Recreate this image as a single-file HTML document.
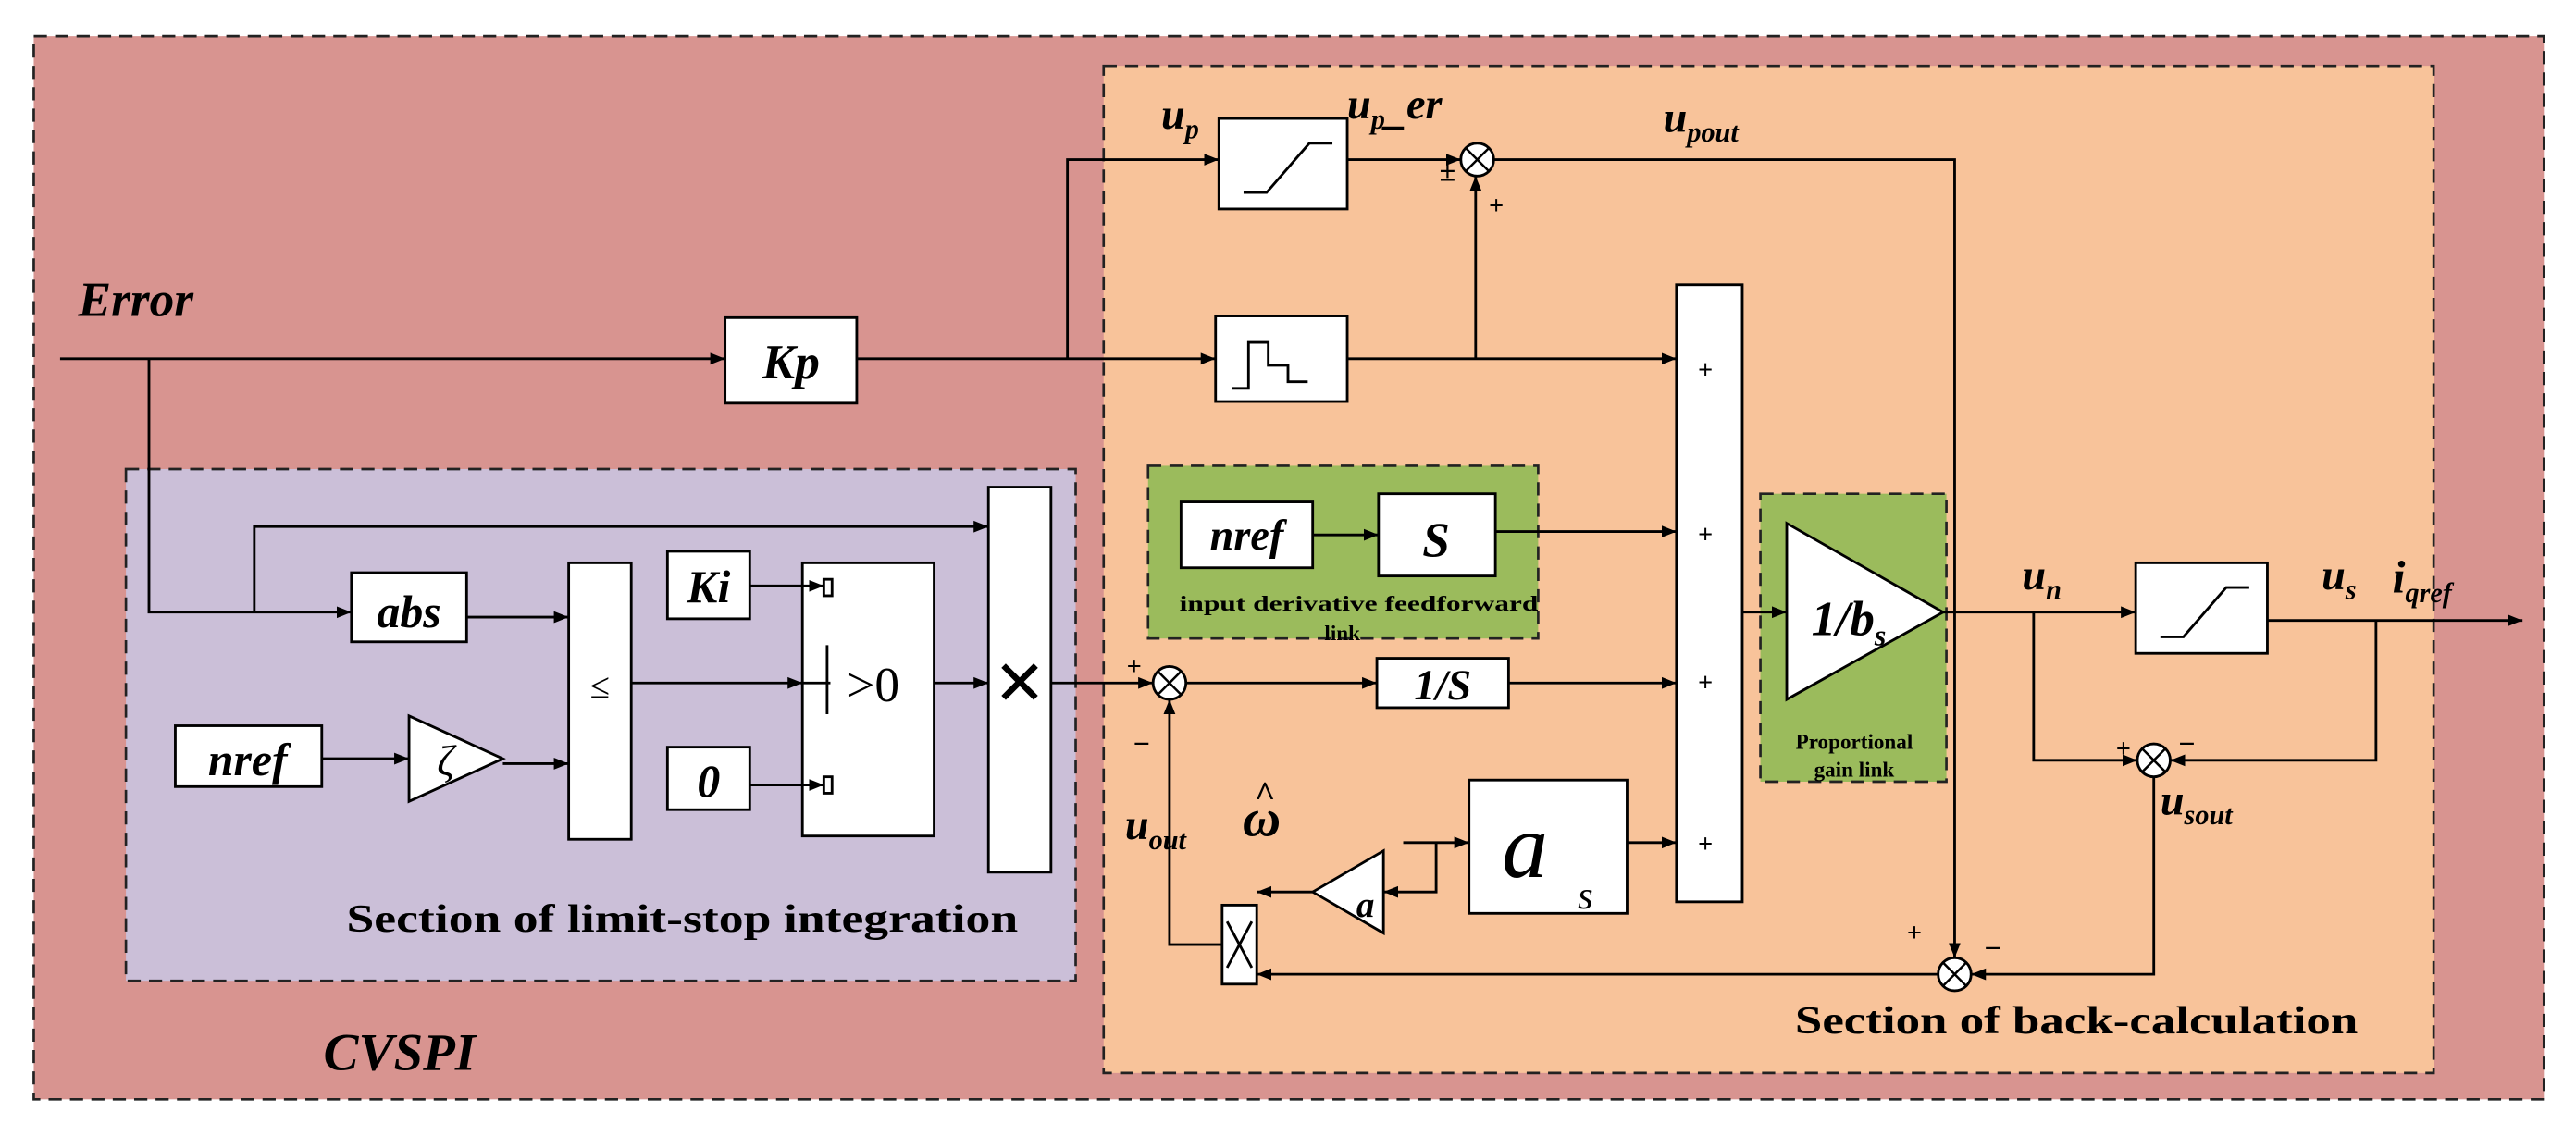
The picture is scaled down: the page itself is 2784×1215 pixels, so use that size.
<!DOCTYPE html>
<html><head><meta charset="utf-8"><style>
html,body{margin:0;padding:0;background:#fff}
svg{display:block}
text{font-family:"Liberation Serif",serif;fill:#000}
.b{font-weight:bold}
.bi{font-weight:bold;font-style:italic}
</style></head><body>
<svg width="2784" height="1215" viewBox="0 0 1564 683" xmlns="http://www.w3.org/2000/svg">
<defs><marker id="a" viewBox="0 0 10 10" refX="10" refY="5" markerWidth="9" markerHeight="9" markerUnits="userSpaceOnUse" orient="auto"><path d="M0,1 L10,5 L0,9 z" fill="#000"/></marker></defs>
<rect x="0" y="0" width="1564" height="683" fill="#fff"/>
<rect x="20" y="22" width="1525" height="646" fill="#d89490" stroke="#222" stroke-width="1.5" stroke-dasharray="8,5"/>
<rect x="670" y="40" width="808" height="612" fill="#f8c39a" stroke="#222" stroke-width="1.5" stroke-dasharray="8,5"/>
<rect x="76" y="285" width="577" height="311" fill="#cbbfd8" stroke="#222" stroke-width="1.5" stroke-dasharray="8,5"/>
<rect x="697" y="283" width="237" height="105" fill="#9bbb5c" stroke="#222" stroke-width="1.5" stroke-dasharray="8,5"/>
<rect x="1069" y="300" width="113" height="175" fill="#9bbb5c" stroke="#222" stroke-width="1.5" stroke-dasharray="8,5"/>
<g stroke="#000" stroke-width="1.6" fill="#fff">
<rect x="440" y="193" width="80" height="52"/>
<rect x="740" y="72" width="78" height="55"/>
<rect x="738" y="192" width="80" height="52"/>
<rect x="1018" y="173" width="40" height="375"/>
<rect x="717" y="305" width="80" height="40"/>
<rect x="837" y="300" width="71" height="50"/>
<rect x="836" y="400" width="80" height="30"/>
<rect x="892" y="474" width="96" height="81"/>
<polygon points="1085,318 1180,372 1085,425"/>
<rect x="1297" y="342" width="80" height="55"/>
<polygon points="797,542 840,517 840,567"/>
<rect x="742" y="550" width="21" height="48"/>
<rect x="213" y="348" width="70" height="42"/>
<rect x="106" y="441" width="89" height="37"/>
<polygon points="248,435 305,461 248,487"/>
<rect x="345" y="342" width="38" height="168"/>
<rect x="405" y="335" width="50" height="41"/>
<rect x="405" y="454" width="50" height="38"/>
<rect x="487" y="342" width="80" height="166"/>
<rect x="600" y="296" width="38" height="234"/>
<circle cx="897" cy="97" r="10"/><circle cx="710" cy="415" r="10"/>
<circle cx="1308" cy="462" r="10"/><circle cx="1187" cy="592" r="10"/>
<rect x="500" y="352" width="5" height="10"/><rect x="500" y="472" width="5" height="10"/>
</g>
<g stroke="#000" stroke-width="1.4">
<path d="M890,90 l14,14 M904,90 l-14,14 M703,408 l14,14 M717,408 l-14,14 M1301,455 l14,14 M1315,455 l-14,14 M1180,585 l14,14 M1194,585 l-14,14"/>
</g>
<g stroke="#000" stroke-width="1.6" fill="none">
<path d="M755,117 h14 l26,-30 h14"/>
<path d="M1312,387 h14 l26,-30 h14"/>
<path d="M748,236 h10 v-28 h12 v14 h12 v10 h12"/>
<path d="M745,560 l15,28 M760,560 l-15,28"/>
<path d="M487,415 h17 M502,392 v42"/>
<path d="M36,218 H440" marker-end="url(#a)"/>
<path d="M520,218 H738" marker-end="url(#a)"/>
<path d="M648,218 V97 H740" marker-end="url(#a)"/>
<path d="M818,97 H887" marker-end="url(#a)"/>
<path d="M818,218 H1018" marker-end="url(#a)"/>
<path d="M896,218 V107" marker-end="url(#a)"/>
<path d="M907,97 H1187 V582" marker-end="url(#a)"/>
<path d="M797,325 H837" marker-end="url(#a)"/>
<path d="M908,323 H1018" marker-end="url(#a)"/>
<path d="M720,415 H836" marker-end="url(#a)"/>
<path d="M916,415 H1018" marker-end="url(#a)"/>
<path d="M988,512 H1018" marker-end="url(#a)"/>
<path d="M1058,372 H1085" marker-end="url(#a)"/>
<path d="M1180,372 H1297" marker-end="url(#a)"/>
<path d="M1377,377 H1532" marker-end="url(#a)"/>
<path d="M1443,377 V462 H1318" marker-end="url(#a)"/>
<path d="M1235,372 V462 H1298" marker-end="url(#a)"/>
<path d="M1308,472 V592 H1197" marker-end="url(#a)"/>
<path d="M1177,592 H763" marker-end="url(#a)"/>
<path d="M852,512 H892" marker-end="url(#a)"/>
<path d="M872,512 V542 H840" marker-end="url(#a)"/>
<path d="M797,542 H763" marker-end="url(#a)"/>
<path d="M742,574 H710 V425" marker-end="url(#a)"/>
<path d="M90,218 V372 H213" marker-end="url(#a)"/>
<path d="M154,372 V320 H600" marker-end="url(#a)"/>
<path d="M283,375 H345" marker-end="url(#a)"/>
<path d="M195,461 H248" marker-end="url(#a)"/>
<path d="M305,464 H345" marker-end="url(#a)"/>
<path d="M383,415 H487" marker-end="url(#a)"/>
<path d="M455,356 H500" marker-end="url(#a)"/>
<path d="M455,477 H500" marker-end="url(#a)"/>
<path d="M567,415 H600" marker-end="url(#a)"/>
<path d="M638,415 H700" marker-end="url(#a)"/>
</g>
<text x="47" y="192" font-size="30" class="bi">Error</text>
<text x="480" y="230" font-size="30" class="bi" text-anchor="middle">Kp</text>
<text x="705" y="78" font-size="26" class="bi">u<tspan font-size="17" dy="6">p</tspan></text>
<text x="818" y="72" font-size="26" class="bi">u<tspan font-size="17" dy="6">p</tspan><tspan dy="-3">_</tspan><tspan dy="-3">er</tspan></text>
<text x="1010" y="80" font-size="26" class="bi">u<tspan font-size="17" dy="6">pout</tspan></text>
<text x="874" y="110" font-size="18" class="b">±</text>
<text x="904" y="130" font-size="16" class="b">+</text>
<g font-size="16" class="b"><text x="1031" y="230">+</text><text x="1031" y="330">+</text><text x="1031" y="420">+</text><text x="1031" y="518">+</text></g>
<text x="757" y="334" font-size="26" class="bi" text-anchor="middle">nref</text>
<text x="872" y="338" font-size="30" class="bi" text-anchor="middle">S</text>
<text x="716" y="371" font-size="13" class="b" textLength="218" lengthAdjust="spacingAndGlyphs">input derivative feedforward</text>
<text x="815" y="389" font-size="13" class="b" text-anchor="middle">link</text>
<text x="876" y="425" font-size="26" class="bi" text-anchor="middle">1/S</text>
<text x="912" y="533" font-size="56" font-style="italic" font-family="Liberation Sans,sans-serif">a</text>
<text x="958" y="552" font-size="24" font-style="italic">s</text>
<text x="1100" y="386" font-size="30" class="bi">1/b<tspan font-size="18" dy="6">s</tspan></text>
<text x="1126" y="455" font-size="13" class="b" text-anchor="middle">Proportional</text>
<text x="1126" y="472" font-size="13" class="b" text-anchor="middle">gain link</text>
<text x="1228" y="358" font-size="26" class="bi">u<tspan font-size="17" dy="6">n</tspan></text>
<text x="1410" y="358" font-size="26" class="bi">u<tspan font-size="17" dy="6">s</tspan></text>
<text x="1453" y="360" font-size="28" class="bi">i<tspan font-size="17" dy="6">qref</tspan></text>
<text x="1285" y="460" font-size="16" class="b">+</text><text x="1323" y="458" font-size="18" class="b">−</text>
<text x="1312" y="495" font-size="26" class="bi">u<tspan font-size="17" dy="6">sout</tspan></text>
<text x="1158" y="572" font-size="16" class="b">+</text><text x="1205" y="582" font-size="18" class="b">−</text>
<text x="1090" y="628" font-size="24" class="b" textLength="342" lengthAdjust="spacingAndGlyphs">Section of back-calculation</text>
<text x="829" y="557" font-size="22" class="bi" text-anchor="middle">a</text>
<text x="766" y="508" font-size="32" class="bi" text-anchor="middle">ω</text>
<text x="768" y="490" font-size="22" class="b" text-anchor="middle">^</text>
<text x="683" y="510" font-size="26" class="bi">u<tspan font-size="17" dy="6">out</tspan></text>
<text x="684" y="410" font-size="16" class="b">+</text><text x="688" y="458" font-size="18" class="b">−</text>
<text x="248" y="381" font-size="28" class="bi" text-anchor="middle">abs</text>
<text x="150" y="471" font-size="28" class="bi" text-anchor="middle">nref</text>
<text x="265" y="471" font-size="26" font-style="italic">ζ</text>
<text x="364" y="424" font-size="22" text-anchor="middle">≤</text>
<text x="430" y="366" font-size="28" class="bi" text-anchor="middle">Ki</text>
<text x="430" y="484" font-size="28" class="bi" text-anchor="middle">0</text>
<text x="514" y="426" font-size="30">&gt;0</text>
<text x="619" y="428" font-size="38" text-anchor="middle">✕</text>
<text x="210" y="566" font-size="24" class="b" textLength="408" lengthAdjust="spacingAndGlyphs">Section of  limit-stop integration</text>
<text x="196" y="650" font-size="32" class="bi">CVSPI</text>
</svg>
</body></html>
